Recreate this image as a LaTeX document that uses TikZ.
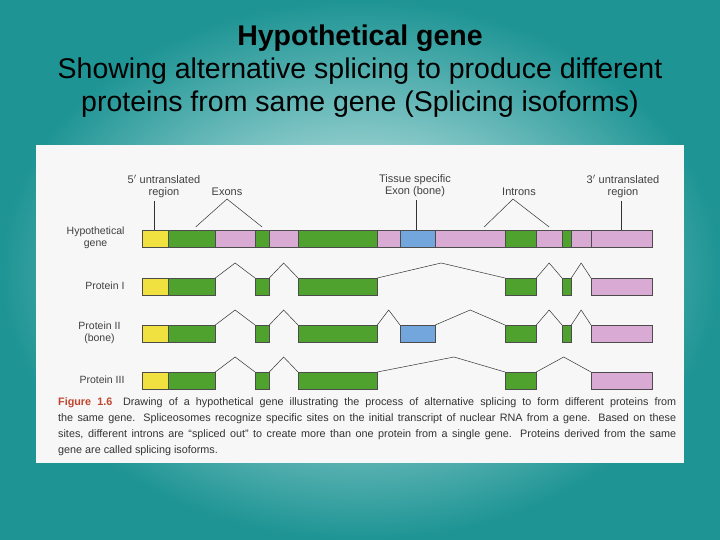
\documentclass[tikz,border=0pt]{standalone}
\usepackage{fontspec}
\setmainfont{Liberation Sans}
\usetikzlibrary{calc}
\definecolor{ye}{HTML}{F0E040}
\definecolor{gr}{HTML}{4FA22E}
\definecolor{pk}{HTML}{D9AAD3}
\definecolor{bl}{HTML}{74A6DE}
\definecolor{tealout}{HTML}{1E9494}
\definecolor{tealin}{HTML}{E6F7F7}
\definecolor{capred}{HTML}{C0442C}
\tikzset{
  seg/.style={draw=black!70,line width=0.3pt,inner sep=0pt,minimum height=17pt,anchor=north west},
  lbl/.style={font=\fontsize{11}{12}\selectfont,text=black!75,align=center,inner sep=1pt},
  rowlbl/.style={font=\fontsize{10.5}{12}\selectfont,text=black!75,align=center},
  spl/.style={draw=black!80,line width=0.5pt},
  pointer/.style={draw=black!80,line width=0.5pt},
}
\newcommand{\sg}[5]{\node[seg,fill=#5,minimum width={(#3-#2)*1pt}] (#1) at (#2,#4) {};}
\newcommand{\spl}[3]{\draw[spl] (#1.north east) -- ($(#1.north east)!0.5!(#2.north west)+(0,-#3)$) -- (#2.north west);}
\newcommand{\capline}[1]{\makebox[618pt][s]{#1}}
\begin{document}
\begin{tikzpicture}[x=1pt,y=-1pt]
\useasboundingbox (0,0) rectangle (720,540);
\shade[inner color=tealin,outer color=tealout] (0,0) rectangle (720,540);
\node[font=\fontsize{28.5}{33}\selectfont,align=center,anchor=north] (title) at (360,21)
 {\textbf{Hypothetical gene}\\Showing alternative splicing to produce different\\proteins from same gene (Splicing isoforms)};
\fill[white!94!gray] (36,145) rectangle (684,463);
% labels
\node[lbl] (l5) at (164,186) {5$'$ untranslated\\region};
\node[lbl] (lex) at (227,192) {Exons};
\node[lbl] (lts) at (415,186) {Tissue specific\\Exon (bone)};
\node[lbl] (lin) at (519,192) {Introns};
\node[lbl] (l3) at (623,186) {3$'$ untranslated\\region};
% hypothetical gene
\sg{g1}{142}{168}{230}{ye}\sg{g2}{168}{215}{230}{gr}\sg{g3}{215}{255}{230}{pk}
\sg{g4}{255}{269}{230}{gr}\sg{g5}{269}{298}{230}{pk}\sg{g6}{298}{377}{230}{gr}
\sg{g7}{377}{400}{230}{pk}\sg{g8}{400}{435}{230}{bl}\sg{g9}{435}{505}{230}{pk}
\sg{g10}{505}{536}{230}{gr}\sg{g11}{536}{562}{230}{pk}\sg{g12}{562}{571}{230}{gr}
\sg{g13}{571}{591}{230}{pk}\sg{g14}{591}{652}{230}{pk}
\draw[pointer] (l5.south) ++(-10,2) coordinate (p5) -- (p5 |- g1.north);
\draw[pointer] (lts.south) ++(1,2) coordinate (pts) -- (pts |- g8.north);
\draw[pointer] (l3.south) ++(-2,2) coordinate (p3) -- (p3 |- g14.north);
\draw[pointer] ($(g2.north)+(4,-3)$) -- ($(lex.south)+(0,2)$) -- ($(g4.north)+(0,-3)$);
\draw[pointer] ($(g9.north)+(14,-3)$) -- ($(lin.south)+(-6,2)$) -- ($(g11.north)+(0,-3)$);
\node[rowlbl,anchor=east] (rg) at (128,238) {Hypothetical\\gene};
% protein I
\sg{a1}{142}{168}{278}{ye}\sg{a2}{168}{215}{278}{gr}\sg{a4}{255}{269}{278}{gr}
\sg{a6}{298}{377}{278}{gr}\sg{a10}{505}{536}{278}{gr}\sg{a12}{562}{571}{278}{gr}
\sg{a14}{591}{652}{278}{pk}
\spl{a2}{a4}{15}\spl{a4}{a6}{15}\spl{a6}{a10}{15}\spl{a10}{a12}{15}\spl{a12}{a14}{15}
\node[rowlbl,anchor=east] (r1) at (128,286) {Protein I};
% protein II
\sg{b1}{142}{168}{325}{ye}\sg{b2}{168}{215}{325}{gr}\sg{b4}{255}{269}{325}{gr}
\sg{b6}{298}{377}{325}{gr}\sg{b8}{400}{435}{325}{bl}\sg{b10}{505}{536}{325}{gr}
\sg{b12}{562}{571}{325}{gr}\sg{b14}{591}{652}{325}{pk}
\spl{b2}{b4}{15}\spl{b4}{b6}{15}\spl{b6}{b8}{15}\spl{b8}{b10}{15}\spl{b10}{b12}{15}\spl{b12}{b14}{15}
\node[rowlbl,anchor=east] (r2) at (124,333) {Protein II\\(bone)};
% protein III
\sg{c1}{142}{168}{372}{ye}\sg{c2}{168}{215}{372}{gr}\sg{c4}{255}{269}{372}{gr}
\sg{c6}{298}{377}{372}{gr}\sg{c10}{505}{536}{372}{gr}\sg{c14}{591}{652}{372}{pk}
\spl{c2}{c4}{15}\spl{c4}{c6}{15}
\draw[spl] (c6.north east) -- ($(c6.north east)!0.6!(c10.north west)+(0,-15)$) -- (c10.north west);
\spl{c10}{c14}{15}
\node[rowlbl,anchor=east] (r3) at (128,380) {Protein III};
% caption
\node[anchor=north west,font=\fontsize{10.8}{16.3}\selectfont,text=black!80,align=left,inner sep=0pt] (cap) at (58,397)
 {\capline{{\color{capred}\textbf{Figure 1.6}}\quad Drawing of a hypothetical gene illustrating the process of alternative splicing to form different proteins from}\\
  \capline{the same gene. Spliceosomes recognize specific sites on the initial transcript of nuclear RNA from a gene. Based on these}\\
  \capline{sites, different introns are ``spliced out'' to create more than one protein from a single gene. Proteins derived from the same}\\
  gene are called splicing isoforms.};
\end{tikzpicture}
\end{document}
